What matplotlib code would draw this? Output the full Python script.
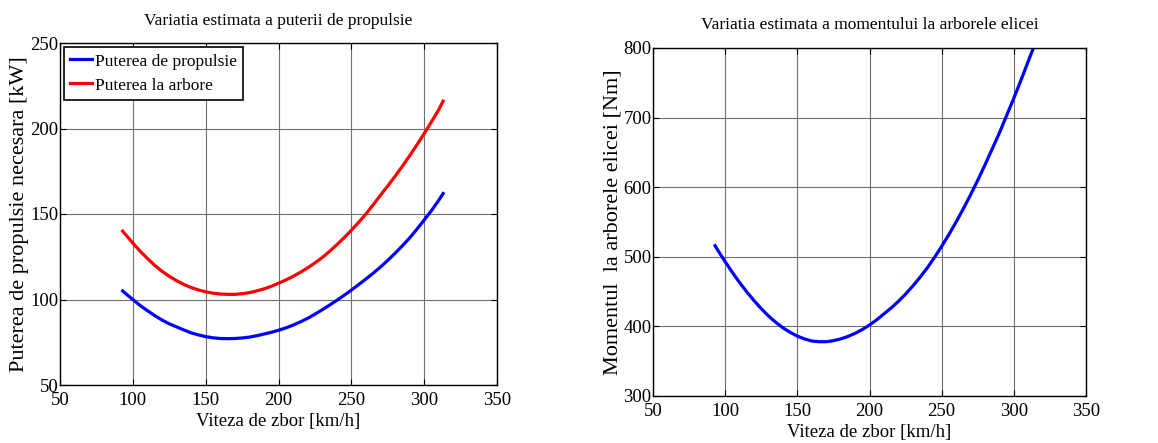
import numpy as np
import matplotlib.pyplot as plt

plt.rcParams['font.family'] = ['Liberation Serif', 'DejaVu Serif']

# flight speed [km/h]
viteza = [93, 95, 100, 105, 110, 115, 120, 125, 130, 135, 140, 145, 150, 155,
          160, 165, 170, 175, 180, 185, 190, 195, 200, 205, 210, 215, 220, 225,
          230, 235, 240, 245, 250, 255, 260, 265, 270, 275, 280, 285, 290, 295,
          300, 305, 310, 313]

# propulsion power [kW]
p_propulsie = [105, 103.5, 100, 96.5, 93.5, 90.6, 88, 85.8, 84, 82.2, 80.5, 79.3,
               78.3, 77.6, 77.2, 77.1, 77.2, 77.5, 78, 78.8, 79.8, 80.8, 82, 83.4,
               85, 86.9, 89, 91.4, 94, 96.7, 99.5, 102.4, 105.5, 108.7, 112, 115.4,
               119, 122.9, 127, 131.4, 136, 141.1, 146.5, 152, 158, 162]
# shaft power [kW]
p_arbore = [140, 138, 133, 128.3, 124, 120, 116.5, 113.6, 111, 108.8, 107, 105.6,
            104.5, 103.7, 103.2, 103, 103, 103.4, 104, 105, 106.2, 107.7, 109.5, 111.4,
            113.5, 115.9, 118.5, 121.4, 124.5, 128.1, 132, 136.1, 140.5, 145.1, 150, 155.4,
            161, 166.4, 172, 177.9, 184, 190.4, 197, 203.9, 211, 216]
# propeller shaft torque [Nm]
moment = [516, 509, 493, 477.5, 463, 449.5, 437, 425.5, 415, 406, 398, 391.5,
          386, 382, 379, 378, 378, 379.5, 382, 385.5, 390, 395.5, 402, 409.5,
          418, 426.5, 436, 446.5, 458, 470.5, 484, 499, 515, 532, 550, 569,
          589, 610, 632, 655, 678, 703, 728, 754, 781, 797]

x_ticks = [50, 100, 150, 200, 250, 300, 350]

fig = plt.figure(figsize=(11.58, 4.43), dpi=100)
ax1 = fig.add_axes([60 / 1158, 1 - 385 / 443, 437 / 1158, 342 / 443])
ax2 = fig.add_axes([653 / 1158, 1 - 396 / 443, 433 / 1158, 348 / 443])


def matlab_style(ax):
    ax.grid(True, color='#707070', linewidth=0.8)
    ax.set_axisbelow(True)
    ax.tick_params(direction='in', top=True, right=True, labelsize=13.5,
                   length=4, width=0.8)
    ax.tick_params(axis='y', pad=1)
    ax.tick_params(axis='x', pad=5)
    for s in ax.spines.values():
        s.set_linewidth(1.0)
    ax.set_xlim(50, 350)
    ax.set_xticks(x_ticks)
    ax.set_xlabel('Viteza de zbor [km/h]', fontsize=13.5, labelpad=3)


ax1.plot(viteza, p_propulsie, color='#0000ff', linewidth=2.3, label='Puterea de propulsie')
ax1.plot(viteza, p_arbore, color='#ff0000', linewidth=2.3, label='Puterea la arbore')
matlab_style(ax1)
ax1.set_ylim(50, 250)
ax1.set_yticks([50, 100, 150, 200, 250])
ax1.set_ylabel('Puterea de propulsie necesara [kW]', fontsize=16, labelpad=1)
ax1.set_title('Variatia estimata a puterii de propulsie', fontsize=12.5, pad=13)
leg = ax1.legend(loc='upper left', fontsize=12.5, fancybox=False, framealpha=1,
                 edgecolor='black', handlelength=1.25, handletextpad=0.15,
                 borderpad=0.35, labelspacing=0.45, borderaxespad=0.25)
leg.get_frame().set_linewidth(1.2)

ax2.plot(viteza, moment, color='#0000ff', linewidth=2.3)
matlab_style(ax2)
ax2.set_ylim(300, 800)
ax2.set_yticks([300, 400, 500, 600, 700, 800])
ax2.set_ylabel('Momentul  la arborele elicei [Nm]', fontsize=16, labelpad=1)
ax2.set_title('Variatia estimata a momentului la arborele elicei', fontsize=12.5, pad=14)

fig.savefig('out.png', dpi=100)
